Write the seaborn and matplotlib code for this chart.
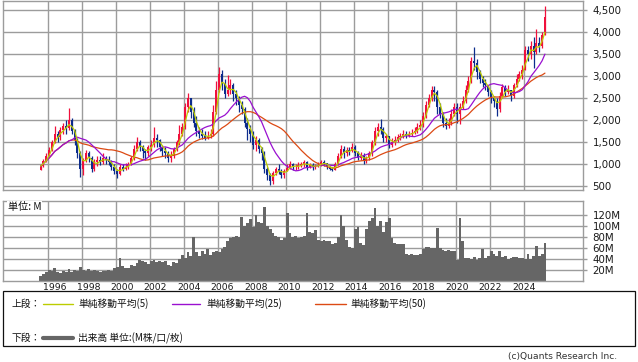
import numpy as np
import pandas as pd
import matplotlib
matplotlib.use("Agg")
import matplotlib.pyplot as plt
import matplotlib.transforms as mtransforms
from matplotlib.lines import Line2D
from matplotlib.patches import Rectangle
from matplotlib.ticker import FuncFormatter
import seaborn as sns

# ---------------- data (bi-monthly candles, Jul-1995 .. Apr-2025) ----------------
first_open = 880
close = [
    960, 1080, 1200,
    1330, 1500, 1700, 1620, 1780, 1880,
    1820, 2000, 1760, 1550, 1250, 900,
    1100, 1250, 1150, 900, 1050, 1100,
    1050, 1150, 1100, 1050, 950, 850,
    780, 950, 900, 950, 1000, 1150,
    1350, 1500, 1400, 1300, 1250, 1400,
    1450, 1600, 1550, 1400, 1300, 1250,
    1150, 1200, 1350, 1500, 1700, 1850,
    2300, 2500, 2200, 1950, 1750, 1700,
    1650, 1600, 1650, 1700, 2200, 2700,
    3050, 2850, 2600, 2700, 2800, 2600,
    2500, 2350, 2250, 1950, 1800, 1700,
    1450, 1550, 1350, 1250, 900, 750,
    620, 800, 900, 850, 750, 850,
    920, 1000, 930, 950, 980, 1000,
    1050, 950, 980, 940, 960, 990,
    1050, 1020, 950, 900, 880, 1000,
    1200, 1350, 1250, 1320, 1300, 1400,
    1250, 1150, 1200, 1080, 1150, 1250,
    1500, 1750, 1850, 1800, 1600, 1650,
    1450, 1500, 1550, 1620, 1650, 1700,
    1650, 1700, 1720, 1750, 1850, 1900,
    2100, 2350, 2500, 2700, 2650, 2300,
    2150, 1950, 1880, 1950, 2150, 2300,
    2150, 2300, 2450, 2700, 2900, 3350,
    3300, 3100, 2950, 2850, 2800, 2650,
    2500, 2450, 2250, 2550, 2750, 2650,
    2700, 2550, 2800, 2950, 3050, 3150,
    3600, 3500, 3700, 3550, 3750, 3700,
    3950, 4350,
]
high = [
    990, 1120, 1250,
    1400, 1560, 1860, 1760, 1850, 1950,
    2010, 2280, 2050, 1800, 1600, 1300,
    1150, 1330, 1300, 1200, 1120, 1180,
    1200, 1250, 1200, 1200, 1100, 1000,
    900, 1000, 1000, 1020, 1050, 1200,
    1450, 1620, 1550, 1450, 1350, 1450,
    1550, 1850, 1700, 1580, 1450, 1400,
    1300, 1300, 1400, 1550, 1900, 1950,
    2400, 2620, 2500, 2300, 2100, 1850,
    1800, 1750, 1750, 1800, 2350, 2900,
    3210, 3150, 2950, 3030, 2950, 2850,
    2700, 2550, 2450, 2300, 2050, 1900,
    1750, 1650, 1600, 1400, 1300, 950,
    800, 850, 950, 1000, 900, 900,
    1000, 1080, 1020, 1000, 1050, 1060,
    1100, 1080, 1030, 1020, 1000, 1050,
    1100, 1100, 1030, 960, 930, 1050,
    1250, 1430, 1420, 1400, 1400, 1480,
    1450, 1300, 1280, 1250, 1200, 1300,
    1550, 1850, 1950, 2020, 1850, 1700,
    1650, 1600, 1650, 1700, 1720, 1780,
    1750, 1760, 1800, 1850, 1950, 2000,
    2200, 2450, 2600, 2790, 2780, 2700,
    2400, 2200, 2050, 2050, 2250, 2400,
    2400, 2400, 2550, 2800, 3000, 3450,
    3670, 3400, 3150, 3000, 2950, 2800,
    2700, 2550, 2500, 2650, 2830, 2800,
    2800, 2700, 2850, 3050, 3130, 3250,
    3700, 3680, 3800, 3900, 4080, 3900,
    4000, 4600,
]
low = [
    870, 940, 1050,
    1180, 1300, 1480, 1500, 1560, 1700,
    1680, 1780, 1680, 1450, 1150, 720,
    750, 1050, 1050, 830, 850, 960,
    980, 1000, 1000, 980, 880, 780,
    690, 760, 850, 880, 900, 980,
    1100, 1300, 1300, 1150, 1100, 1200,
    1300, 1400, 1400, 1300, 1200, 1150,
    1050, 1050, 1150, 1300, 1450, 1650,
    1800, 2200, 2050, 1850, 1650, 1600,
    1580, 1560, 1570, 1600, 1650, 2150,
    2650, 2700, 2500, 2550, 2600, 2450,
    2350, 2200, 2150, 1850, 1550, 1500,
    1350, 1300, 1250, 1100, 800, 650,
    530, 560, 750, 780, 690, 700,
    850, 900, 880, 880, 900, 930,
    950, 880, 920, 880, 900, 930,
    970, 960, 900, 860, 840, 870,
    980, 1150, 1150, 1200, 1220, 1280,
    1200, 1100, 1100, 1000, 1020, 1100,
    1200, 1450, 1650, 1700, 1500, 1500,
    1370, 1400, 1450, 1500, 1550, 1600,
    1600, 1620, 1650, 1680, 1720, 1780,
    1850, 2050, 2300, 2450, 2450, 2150,
    2050, 1850, 1800, 1820, 1900, 2100,
    1950, 1920, 2250, 2400, 2650, 2850,
    3150, 2950, 2850, 2750, 2700, 2550,
    2400, 2300, 2100, 2200, 2500, 2550,
    2600, 2450, 2500, 2750, 2900, 2950,
    3150, 3350, 3400, 3200, 3500, 3550,
    3650, 3950,
]
volume = [  # millions
    9, 12, 16,
    20, 18, 24, 16, 15, 18,
    17, 21, 17, 20, 19, 25,
    20, 19, 22, 18, 20, 19,
    17, 18, 19, 20, 18, 23,
    26, 42, 28, 24, 24, 30,
    28, 33, 38, 37, 34, 31,
    36, 38, 34, 37, 34, 36,
    30, 28, 34, 33, 40, 48,
    42, 52, 45, 80, 52, 46,
    55, 50, 58, 48, 53, 55,
    52, 58, 62, 72, 78, 80,
    82, 80, 116, 100, 105, 112,
    98, 120, 108, 105, 135, 100,
    95, 88, 82, 80, 75, 78,
    124, 88, 80, 82, 78, 80,
    82, 123, 90, 88, 92, 75,
    72, 74, 73, 72, 68, 70,
    80, 120, 100, 75, 62, 60,
    95, 98, 70, 65, 95, 110,
    115, 133, 100, 110, 90, 108,
    114, 78, 70, 68, 67, 68,
    50, 48, 49, 48, 47, 50,
    58, 62, 62, 60, 60, 96,
    60, 56, 55, 56, 55, 54,
    38, 115, 72, 42, 42, 40,
    43, 38, 42, 58, 42, 45,
    55, 50, 45, 55, 43, 46,
    40, 42, 43, 43, 41, 42,
    40, 50, 40, 45, 63, 45,
    50, 70,
]
year_labels = ["1996", "1998", "2000", "2002", "2004", "2006", "2008", "2010",
               "2012", "2014", "2016", "2018", "2020", "2022", "2024"]
price_ticks = [500, 1000, 1500, 2000, 2500, 3000, 3500, 4000, 4500]
volume_ticks = [20, 40, 60, 80, 100, 120]
legend_upper = ["単純移動平均(5)", "単純移動平均(25)", "単純移動平均(50)"]
legend_lower = "出来高 単位:(M株/口/枚)"

# ---------------- frame ----------------
n = len(close)
starts = pd.date_range("1995-07-01", periods=n + 1, freq="2MS")
edges = np.asarray(starts.year + (starts.month - 1) / 12.0, dtype=float)
t = (edges[:-1] + edges[1:]) / 2
opens = np.r_[first_open, close[:-1]]
df = pd.DataFrame({"t": t, "open": opens, "close": close, "high": high,
                   "low": low, "volume": volume})
df["ma5"] = df["close"].rolling(3, min_periods=1).mean()
df["ma25"] = df["close"].rolling(12, min_periods=1).mean()
df["ma50"] = df["close"].rolling(25, min_periods=1).mean()

sns.set_theme(style="white")
plt.rcParams["font.family"] = ["DejaVu Sans", "Noto Sans CJK JP"]
JP = ["Noto Sans CJK JP", "DejaVu Sans"]

W, H = 638, 362
fig = plt.figure(figsize=(W / 100, H / 100), dpi=100)
fig.patch.set_facecolor("white")


def px_axes(l, tp, r, b):
    return fig.add_axes([l / W, 1 - b / H, (r - l) / W, (b - tp) / H])


ax1 = px_axes(3.3, 1.0, 582.5, 190)
ax2 = px_axes(3.3, 201, 582.5, 281.0)

GRID = "#9c9c9c"
PX_PER_YEAR = 17.0
X0 = 1996 - (47.7 - 3.3) / PX_PER_YEAR
X1 = 1996 + (582.5 - 47.7) / PX_PER_YEAR
grid_years = [int(s) for s in year_labels]

# ---------------- candles ----------------
UP, DOWN = "#f0103c", "#0c2c8c"
cols = np.where(df["close"] >= df["open"], UP, DOWN)
body_lo = np.minimum(df["open"], df["close"])
body_h = np.maximum(np.abs(df["close"] - df["open"]), 12)
ax1.vlines(df["t"], df["low"], df["high"], colors=cols, lw=0.9, zorder=2)
ax1.bar(df["t"], body_h, bottom=body_lo, width=0.12, color=cols, lw=0, zorder=2)

sns.lineplot(data=df, x="t", y="ma50", color="#dc4a14", lw=0.9, ax=ax1, zorder=3)
sns.lineplot(data=df, x="t", y="ma25", color="#9a10d0", lw=0.9, ax=ax1, zorder=3)
sns.lineplot(data=df, x="t", y="ma5", color="#bccc00", lw=0.9, ax=ax1, zorder=4)

ax1.set_ylim(500 - (190 - 186.3) / 22 * 500, 500 + (186.3 - 1.0) / 22 * 500)
ax1.set_yticks(price_ticks)
ax1.yaxis.set_major_formatter(FuncFormatter(lambda v, p: f"{int(v):,}"))
ax1.set_xlabel("")
ax1.set_ylabel("")

# ---------------- volume ----------------
sns.histplot(data=df, x="t", weights="volume", binwidth=1.0 / 6,
             binrange=(float(edges[0]), float(edges[-1])), ax=ax2,
             color="#666666", alpha=1.0, linewidth=0, edgecolor="none", zorder=2)
ax2.set_ylim(0, (281.0 - 201) / 11 * 20)
ax2.set_yticks(volume_ticks)
ax2.yaxis.set_major_formatter(FuncFormatter(lambda v, p: f"{int(v)}M"))
ax2.set_xlabel("")
ax2.set_ylabel("")
ax2.text(0.008, 0.985, "単位: M", transform=ax2.transAxes, ha="left", va="top",
         fontsize=7.3, family=JP, color="#111111", zorder=5,
         bbox=dict(facecolor="white", edgecolor="none", pad=0.6))

for ax in (ax1, ax2):
    ax.set_xlim(X0, X1)
    ax.set_xticks(grid_years)
    ax.set_xticklabels([])
    ax.set_axisbelow(True)
    ax.yaxis.grid(True, color=GRID, lw=1.0, zorder=0)
    for yr in grid_years:
        ax.axvline(yr, color=GRID, lw=1.0, zorder=0.5)
    for s in ax.spines.values():
        s.set_color(GRID)
        s.set_linewidth(1.0)
    ax.yaxis.tick_right()
    ax.tick_params(axis="x", length=0)
    ax.tick_params(axis="y", length=3.0, width=1.0, color=GRID, pad=4.3,
                   labelsize=7.4, labelcolor="#1a1a1a")
    ax.set_facecolor("white")

# year labels under the volume panel
blend = mtransforms.blended_transform_factory(ax2.transData, ax2.transAxes)
nlab = len(year_labels)
for k, lab in enumerate(year_labels):
    px = 55 + (523.8 - 55) * k / (nlab - 1)
    xd = X0 + (px - 3.3) / PX_PER_YEAR
    ax2.text(xd, -2.5 / 80.0, lab, transform=blend, ha="center", va="top",
             fontsize=6.7, color="#1a1a1a")

# ---------------- legend box ----------------
fig.add_artist(Rectangle((3 / W, 1 - 346 / H), 632 / W, 55 / H,
                         transform=fig.transFigure, fill=False,
                         edgecolor="#111111", lw=0.9))


def ftext(px, py, s, **kw):
    fig.text(px / W, 1 - py / H, s, va="center", ha="left", family=JP,
             fontsize=7, color="#111111", **kw)


def fline(xa, xb, py, color, lw):
    fig.add_artist(Line2D([xa / W, xb / W], [1 - py / H] * 2,
                          transform=fig.transFigure, color=color, lw=lw))


ftext(11, 304, "上段：")
fline(43, 73, 304, "#bccc00", 1.0)
ftext(78, 304, legend_upper[0])
fline(172, 200, 304, "#9a10d0", 1.0)
ftext(206, 304, legend_upper[1])
fline(315, 346, 304, "#dc4a14", 1.0)
ftext(350, 304, legend_upper[2])
ftext(11, 338, "下段：")
fline(43, 73, 338, "#666666", 3.0)
ftext(78, 338, legend_lower)

fig.text(617 / W, 1 - 356 / H, "(c)Quants Research Inc.", ha="right",
         va="center", fontsize=6.6, color="#333333")

fig.savefig("out.png", dpi=100, facecolor="white")
